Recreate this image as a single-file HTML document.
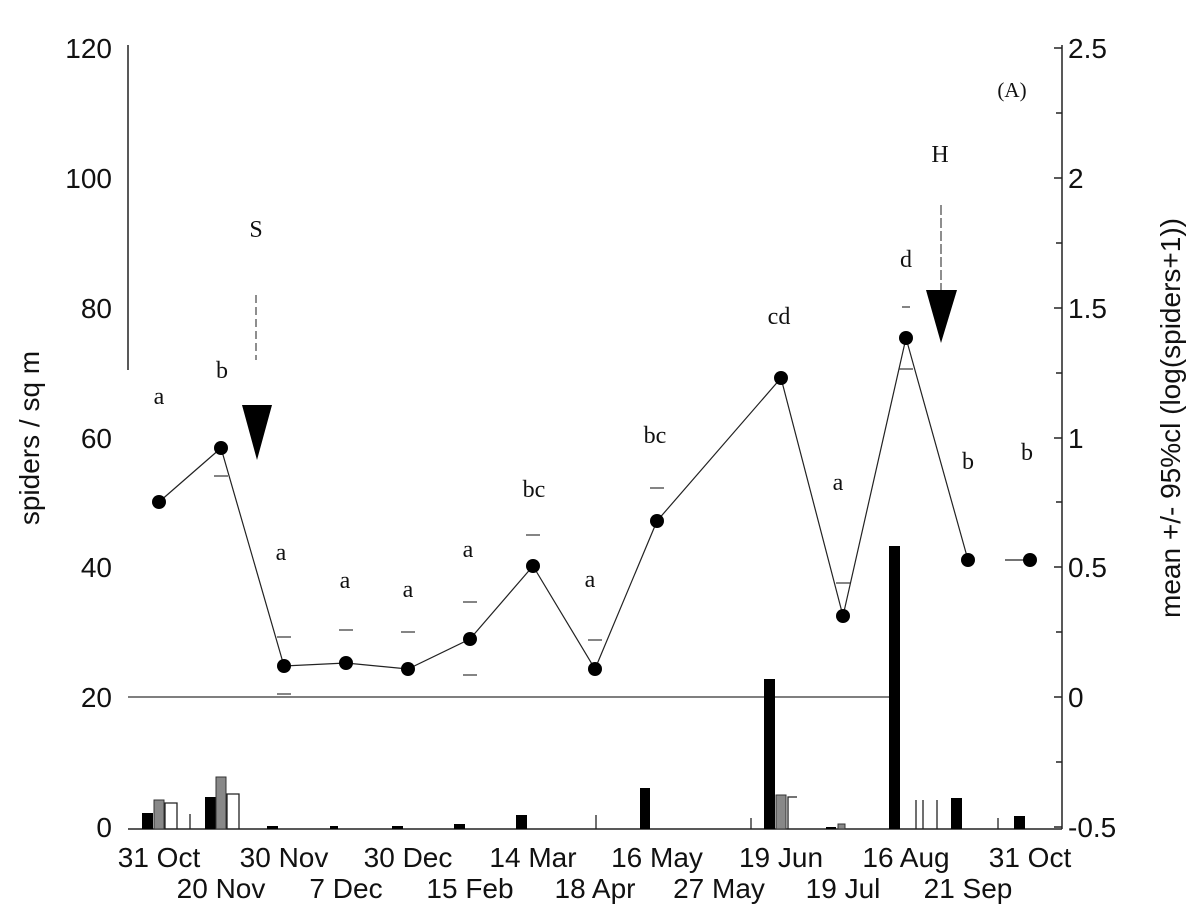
<!DOCTYPE html>
<html><head><meta charset="utf-8"><style>
body{margin:0;background:#fff}
svg{display:block}
.t{font-family:"Liberation Sans",sans-serif;font-size:28px;fill:#111}
.l{font-family:"Liberation Serif",serif;font-size:24px;fill:#111;text-anchor:middle}
</style></head><body>
<svg width="1198" height="916" viewBox="0 0 1198 916">
<g stroke="#222" stroke-width="1.5" fill="none">
<line x1="128" y1="45" x2="128" y2="370"/>
<line x1="1062" y1="45" x2="1062" y2="829"/>
<line x1="128" y1="829" x2="1062" y2="829"/>
<line x1="128" y1="697" x2="890" y2="697" stroke="#555"/>
</g>
<g stroke="#222" stroke-width="1.5">
<line x1="1054" y1="48" x2="1062" y2="48"/><line x1="1054" y1="178" x2="1062" y2="178"/><line x1="1054" y1="308" x2="1062" y2="308"/><line x1="1054" y1="438" x2="1062" y2="438"/><line x1="1054" y1="567" x2="1062" y2="567"/><line x1="1054" y1="697" x2="1062" y2="697"/><line x1="1054" y1="827" x2="1062" y2="827"/>
<line x1="1056" y1="113" x2="1062" y2="113"/><line x1="1056" y1="243" x2="1062" y2="243"/><line x1="1056" y1="373" x2="1062" y2="373"/><line x1="1056" y1="502" x2="1062" y2="502"/><line x1="1056" y1="632" x2="1062" y2="632"/><line x1="1056" y1="762" x2="1062" y2="762"/>
</g>
<g class="t" text-anchor="end">
<text x="112" y="58">120</text><text x="112" y="188">100</text><text x="112" y="318">80</text><text x="112" y="448">60</text><text x="112" y="577">40</text><text x="112" y="707">20</text><text x="112" y="837">0</text>
</g>
<g class="t" text-anchor="start">
<text x="1068" y="58">2.5</text><text x="1068" y="188">2</text><text x="1068" y="318">1.5</text><text x="1068" y="448">1</text><text x="1068" y="577">0.5</text><text x="1068" y="707">0</text><text x="1068" y="837">-0.5</text>
</g>
<text class="t" transform="translate(39,438) rotate(-90)" text-anchor="middle">spiders / sq m</text>
<text class="t" transform="translate(1180,418) rotate(-90)" text-anchor="middle">mean +/- 95%cl (log(spiders+1))</text>
<g class="t" text-anchor="middle" font-size="26">
<text x="159" y="867">31 Oct</text><text x="284" y="867">30 Nov</text><text x="408" y="867">30 Dec</text><text x="533" y="867">14 Mar</text><text x="657" y="867">16 May</text><text x="781" y="867">19 Jun</text><text x="906" y="867">16 Aug</text><text x="1030" y="867">31 Oct</text>
<text x="221" y="898">20 Nov</text><text x="346" y="898">7 Dec</text><text x="470" y="898">15 Feb</text><text x="595" y="898">18 Apr</text><text x="719" y="898">27 May</text><text x="843" y="898">19 Jul</text><text x="968" y="898">21 Sep</text>
</g>
<g fill="#000">
<rect x="142" y="813" width="11" height="16"/><rect x="205" y="797" width="11" height="32"/><rect x="267" y="826" width="11" height="3"/><rect x="330" y="826" width="8" height="3"/><rect x="392" y="826" width="11" height="3"/><rect x="454" y="824" width="11" height="5"/><rect x="516" y="815" width="11" height="14"/><rect x="640" y="788" width="10" height="41"/><rect x="764" y="679" width="11" height="150"/><rect x="826" y="827" width="10" height="2"/><rect x="889" y="546" width="11" height="283"/><rect x="951" y="798" width="11" height="31"/><rect x="1014" y="816" width="11" height="13"/>
</g>
<g fill="#888" stroke="#333" stroke-width="1">
<rect x="154" y="800" width="10" height="29"/><rect x="216" y="777" width="10" height="52"/><rect x="776" y="795" width="10" height="34"/><rect x="838" y="824" width="7" height="5"/>
</g>
<g fill="none" stroke="#222" stroke-width="1.3">
<polyline points="165,829 165,803 177,803 177,829"/><polyline points="227,829 227,794 239,794 239,829"/><polyline points="788,829 788,797 797,797"/>
<line x1="190" y1="814" x2="190" y2="829"/><line x1="596" y1="815" x2="596" y2="829"/><line x1="751" y1="818" x2="751" y2="829"/><line x1="916" y1="800" x2="916" y2="829"/><line x1="923" y1="800" x2="923" y2="829"/><line x1="937" y1="800" x2="937" y2="829"/><line x1="998" y1="818" x2="998" y2="829"/>
</g>
<polyline fill="none" stroke="#222" stroke-width="1.2" points="159,502 221,448 284,666 346,663 408,669 470,639 533,566 595,669 657,521 781,378 843,616 906,338 968,560"/>
<line x1="1005" y1="560" x2="1030" y2="560" stroke="#222" stroke-width="1.2"/>
<g fill="#000">
<circle cx="159" cy="502" r="7"/><circle cx="221" cy="448" r="7"/><circle cx="284" cy="666" r="7"/><circle cx="346" cy="663" r="7"/><circle cx="408" cy="669" r="7"/><circle cx="470" cy="639" r="7"/><circle cx="533" cy="566" r="7"/><circle cx="595" cy="669" r="7"/><circle cx="657" cy="521" r="7"/><circle cx="781" cy="378" r="7"/><circle cx="843" cy="616" r="7"/><circle cx="906" cy="338" r="7"/><circle cx="968" cy="560" r="7"/><circle cx="1030" cy="560" r="7"/>
</g>
<g stroke="#333" stroke-width="1.2">
<line x1="214" y1="476" x2="228" y2="476"/><line x1="277" y1="637" x2="291" y2="637"/><line x1="277" y1="694" x2="291" y2="694"/><line x1="339" y1="630" x2="353" y2="630"/><line x1="401" y1="632" x2="415" y2="632"/><line x1="463" y1="602" x2="477" y2="602"/><line x1="463" y1="675" x2="477" y2="675"/><line x1="526" y1="535" x2="540" y2="535"/><line x1="588" y1="640" x2="602" y2="640"/><line x1="650" y1="488" x2="664" y2="488"/><line x1="836" y1="583" x2="850" y2="583"/><line x1="899" y1="369" x2="913" y2="369"/><line x1="902" y1="307" x2="910" y2="307"/>
</g>
<g class="l">
<text x="159" y="404">a</text><text x="222" y="378">b</text><text x="281" y="560">a</text><text x="345" y="588">a</text><text x="408" y="597">a</text><text x="468" y="557">a</text><text x="534" y="497">bc</text><text x="590" y="587">a</text><text x="655" y="443">bc</text><text x="779" y="324">cd</text><text x="838" y="490">a</text><text x="906" y="267">d</text><text x="968" y="469">b</text><text x="1027" y="460">b</text>
<text x="256" y="237">S</text><text x="940" y="162">H</text><text x="1012" y="97" font-size="21">(A)</text>
</g>
<line x1="256" y1="295" x2="256" y2="360" stroke="#444" stroke-width="1.2" stroke-dasharray="8,4"/>
<polygon points="242,405 272,405 257,460" fill="#000"/>
<line x1="941" y1="205" x2="941" y2="292" stroke="#444" stroke-width="1.2" stroke-dasharray="10,3"/>
<polygon points="926,290 957,290 941,343" fill="#000"/>
</svg>
</body></html>
